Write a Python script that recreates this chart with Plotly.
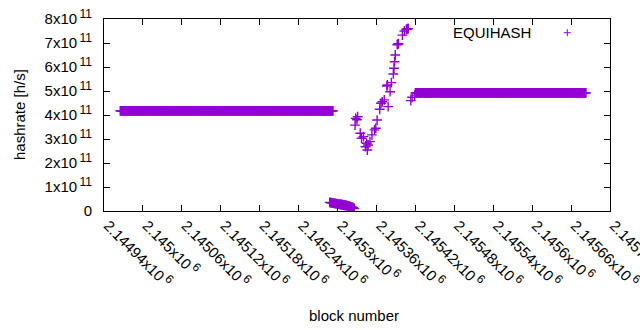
import plotly.graph_objects as go

# ---- data (hashrate in units of 1e11 h/s) ----
flat1_start, flat1_end, flat1_value = 2144965, 2145293, 4.17
flat2_start, flat2_end, flat2_value = 2145420, 2145683, 4.92

low_blocks = list(range(2145288, 2145327))
low_values = [0.36, 0.35, 0.35, 0.34, 0.34, 0.33, 0.33, 0.32, 0.32, 0.31,
              0.31, 0.30, 0.30, 0.29, 0.29, 0.28, 0.28, 0.27, 0.27, 0.26,
              0.26, 0.25, 0.25, 0.24, 0.24, 0.23, 0.22, 0.22, 0.21, 0.20,
              0.19, 0.19, 0.18, 0.17, 0.16, 0.15, 0.14, 0.12, 0.10]

rec_blocks = [2145327, 2145328, 2145330, 2145331, 2145335, 2145337, 2145340,
              2145343, 2145345, 2145346, 2145347, 2145350, 2145353, 2145357,
              2145359, 2145361, 2145365, 2145367, 2145369, 2145372, 2145376,
              2145377, 2145378, 2145381, 2145383, 2145386, 2145387, 2145388,
              2145389, 2145392, 2145393, 2145394, 2145400, 2145403, 2145406,
              2145407, 2145408, 2145409, 2145413, 2145415, 2145419]
rec_values = [3.58, 3.86, 3.80, 3.93, 3.24, 3.03, 3.10, 2.68, 2.82, 2.54,
              2.75, 2.89, 3.17, 3.38, 3.45, 3.79, 4.24, 4.49, 4.55, 4.63,
              5.21, 5.25, 4.35, 4.97, 5.35, 5.71, 5.95, 6.22, 6.50, 6.93,
              6.95, 6.97, 7.33, 7.50, 7.57, 7.58, 7.60, 7.60, 4.60, 4.74,
              4.83]

x_ticks = [2144940 + 60 * i for i in range(14)]
x_tick_labels = ["2.14494", "2.145", "2.14506", "2.14512", "2.14518", "2.14524",
                 "2.1453", "2.14536", "2.14542", "2.14548", "2.14554", "2.1456",
                 "2.14566", "2.14572"]
y_ticks = [0, 1, 2, 3, 4, 5, 6, 7, 8]
series_name = "EQUIHASH"

# ---- assemble ----
xs, ys = [], []
for b in range(flat1_start, flat1_end + 1):
    xs.append(b); ys.append(flat1_value * 1e11)
for b, v in zip(low_blocks, low_values):
    xs.append(b); ys.append(v * 1e11)
for b, v in zip(rec_blocks, rec_values):
    xs.append(b); ys.append(v * 1e11)
for b in range(flat2_start, flat2_end + 1):
    xs.append(b); ys.append(flat2_value * 1e11)

color = "#9400D3"
font = "Liberation Sans, Arial, sans-serif"

L, R, T, B = 104, 30, 19, 119
PW, PH = 640 - L - R, 330 - T - B

def sup(s):
    return "<sup><span style='font-size:12px'>&#8201;" + s + "</span></sup>"

fig = go.Figure()
fig.add_trace(go.Scatter(
    x=xs, y=ys, mode="markers", name=series_name, showlegend=False,
    marker=dict(symbol="cross-thin", size=7, color=color,
                line=dict(color=color, width=1.4)),
    hoverinfo="skip",
))

fig.update_layout(
    width=640, height=330,
    margin=dict(l=L, r=R, t=T, b=B),
    paper_bgcolor="white", plot_bgcolor="white",
    font=dict(family=font, size=15, color="black"),
    showlegend=False,
)
fig.update_xaxes(
    range=[2144940, 2145720], tickvals=x_ticks,
    ticktext=[t + "x10" + sup("6") for t in x_tick_labels],
    tickangle=45, ticks="inside", ticklen=6, tickcolor="black",
    showline=True, linecolor="black", linewidth=1, mirror="ticks",
    showgrid=False, zeroline=False, automargin=False,
    ticklabeloverflow="allow", ticklabelshift=4, ticklabelstandoff=-1,
    tickfont=dict(size=15),
)
fig.update_yaxes(
    range=[0, 8e11], tickvals=[v * 1e11 for v in y_ticks],
    ticktext=["0"] + [f"{v}x10" + sup("11") for v in y_ticks[1:]],
    ticks="inside", ticklen=6, tickcolor="black",
    showline=True, linecolor="black", linewidth=1, mirror="ticks",
    showgrid=False, zeroline=False, automargin=False, ticklabelstandoff=8,
    tickfont=dict(size=15),
)

def px(xp):
    return (xp - L) / PW

def py(yp):
    return 1 - (yp - T) / PH

# axis titles
fig.add_annotation(x=px(354), y=py(315), xref="paper", yref="paper",
                   text="block number", showarrow=False, font=dict(size=15),
                   xanchor="center", yanchor="middle")
fig.add_annotation(x=px(19), y=py(115), xref="paper", yref="paper",
                   text="hashrate [h/s]", showarrow=False, font=dict(size=15),
                   textangle=-90, xanchor="center", yanchor="middle")

# legend in gnuplot style (text, then sample)
fig.add_annotation(x=px(533), y=py(32), xref="paper", yref="paper",
                   text=series_name, showarrow=False, font=dict(size=15),
                   xanchor="right", yanchor="middle")
lx, ly = px(567.3), py(32.7)
dx, dy = 3.5 / PW, 3.5 / PH
fig.add_shape(type="line", xref="paper", yref="paper",
              x0=lx - dx, x1=lx + dx, y0=ly, y1=ly, line=dict(color=color, width=1))
fig.add_shape(type="line", xref="paper", yref="paper",
              x0=lx, x1=lx, y0=ly - dy, y1=ly + dy, line=dict(color=color, width=1))

fig.write_html("out.html", config={"displayModeBar": False},
               post_script="document.body.style.margin='0';")
